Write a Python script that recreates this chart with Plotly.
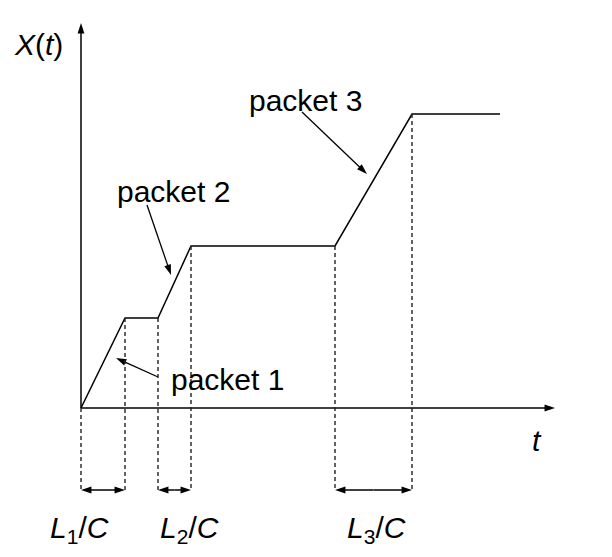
import plotly.graph_objects as go

# Piecewise-linear cumulative arrival curve X(t)
t_vals = [0, 44, 77, 110, 254, 331, 419]
x_vals = [0, 90, 90, 162, 162, 294, 294]

# Transmission intervals (start, end) for each packet
intervals = [(0, 44), (77, 110), (254, 331)]
interval_labels = ["<i>L</i><sub>1</sub>/<i>C</i>", "<i>L</i><sub>2</sub>/<i>C</i>", "<i>L</i><sub>3</sub>/<i>C</i>"]
interval_label_x = [-2, 108, 295]

# Packet labels: text position and arrow tail/head
packet_labels = ["packet 1", "packet 2", "packet 3"]
packet_text_pos = [(146, 29), (92, 217), (224, 308)]
packet_arrow_tail = [(77, 31), (66, 203), (221, 296)]
packet_arrow_head = [(35, 50), (90, 133), (286, 234)]

# Axis extents
x_axis_end = 474
y_axis_end = 385
dim_y = -82

FONT = "Liberation Sans, Arial, sans-serif"
HEAD = 11

fig = go.Figure()


def arrow(x0, y0, x1, y1, width=1.5, size=HEAD):
    fig.add_trace(go.Scatter(
        x=[x0, x1], y=[y0, y1], mode="lines+markers",
        line=dict(color="black", width=width),
        marker=dict(symbol="arrow", size=size, color="black", angleref="previous"),
        hoverinfo="skip", showlegend=False))


# curve
fig.add_trace(go.Scatter(x=t_vals, y=x_vals, mode="lines",
                         line=dict(color="black", width=1.5),
                         hoverinfo="skip", showlegend=False))

# dashed verticals
for xv, yv in zip(t_vals[:6], x_vals[:6]):
    fig.add_shape(type="line", x0=xv, x1=xv, y0=yv, y1=dim_y,
                  line=dict(color="#222222", width=1.4, dash="4px,3px"))

# axes
arrow(0, 0, x_axis_end, 0)
arrow(0, 0, 0, y_axis_end)

# double arrows for intervals
for a, b in intervals:
    m = (a + b) / 2
    arrow(m, dim_y, a, dim_y)
    arrow(m, dim_y, b, dim_y)

# packet arrows
for (sx, sy), (hx, hy) in zip(packet_arrow_tail, packet_arrow_head):
    arrow(sx, sy, hx, hy, width=1.3)

anns = []
for lx, lab in zip(interval_label_x, interval_labels):
    anns.append(dict(x=lx, y=-121, xref="x", yref="y", text=lab, showarrow=False,
                     font=dict(family=FONT, size=30, color="black")))
for lab, (tx, ty) in zip(packet_labels, packet_text_pos):
    anns.append(dict(x=tx, y=ty, xref="x", yref="y", text=lab, showarrow=False,
                     font=dict(family=FONT, size=30, color="black")))
anns.append(dict(x=-43, y=364, xref="x", yref="y", text="<i>X</i>(<i>t</i>)",
                 showarrow=False, font=dict(family=FONT, size=30, color="black")))
anns.append(dict(x=456, y=-32, xref="x", yref="y", text="<i>t</i>",
                 showarrow=False, font=dict(family=FONT, size=30, color="black")))

fig.update_layout(
    width=612, height=557,
    margin=dict(l=0, r=0, t=0, b=0, autoexpand=False),
    paper_bgcolor="white", plot_bgcolor="white",
    xaxis=dict(range=[-73, 539], visible=False, fixedrange=True),
    yaxis=dict(range=[-157, 400], visible=False, fixedrange=True),
    annotations=anns,
    showlegend=False,
)
fig.write_html("out.html", config={"displayModeBar": False})
